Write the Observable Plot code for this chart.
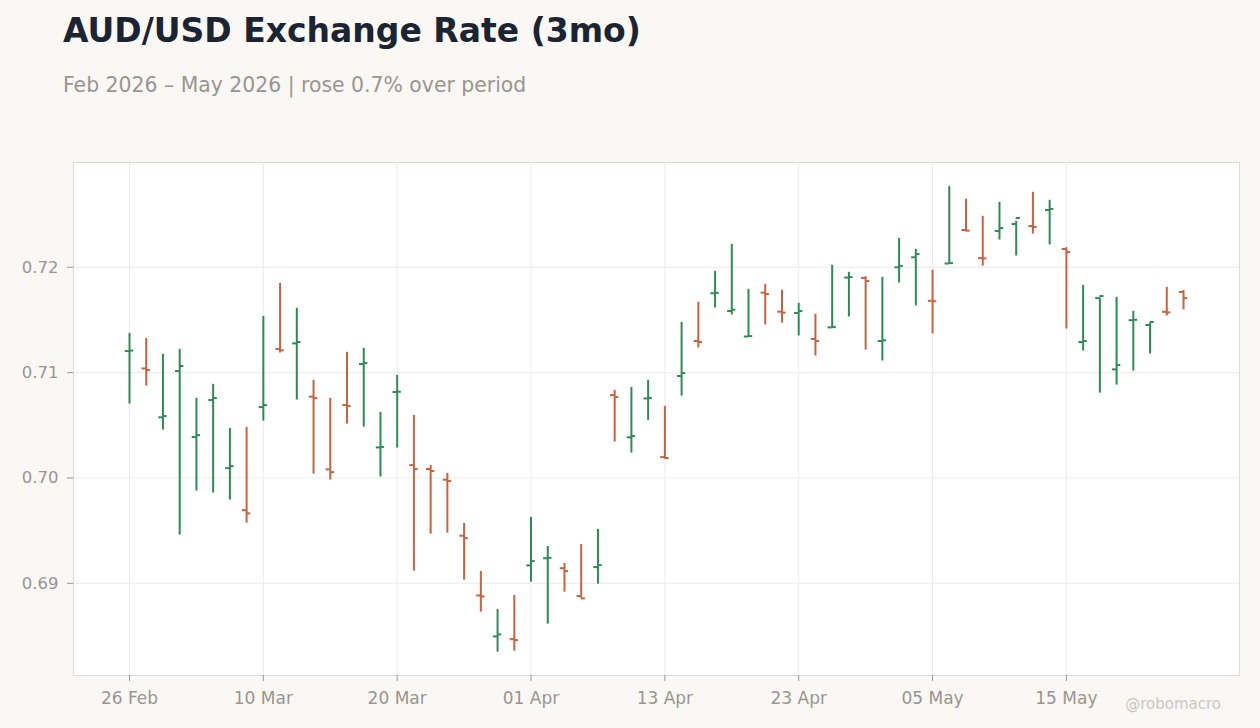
<!DOCTYPE html>
<html><head><meta charset="utf-8">
<script src="https://cdn.jsdelivr.net/npm/d3@7"></script>
<script src="https://cdn.jsdelivr.net/npm/@observablehq/plot@0.6"></script>
<style>
html,body{margin:0;padding:0;background:#f9f8f5;}
body{width:1260px;height:728px;position:relative;overflow:hidden;font-family:"DejaVu Sans",sans-serif;}
#header{position:relative;height:120px;}
#title{position:absolute;left:63px;top:14px;font-size:33px;line-height:33px;font-weight:bold;color:#1b2433;white-space:nowrap;}
#subtitle{position:absolute;left:63px;top:74.5px;font-size:20.4px;line-height:20.4px;color:#9a9590;white-space:nowrap;}
#credit{position:absolute;right:39px;top:697px;font-size:15px;line-height:15px;color:#cac7c3;}
#chart svg{display:block;}
</style></head><body>
<div id="header">
  <div id="title">AUD/USD Exchange Rate (3mo)</div>
  <div id="subtitle">Feb 2026 – May 2026 | rose 0.7% over period</div>
</div>
<div id="chart"></div>
<div id="credit">@robomacro</div>
<script>
const dates = [
  "2026-02-26","2026-02-27",
  "2026-03-02","2026-03-03","2026-03-04","2026-03-05","2026-03-06",
  "2026-03-09","2026-03-10","2026-03-11","2026-03-12","2026-03-13",
  "2026-03-16","2026-03-17","2026-03-18","2026-03-19","2026-03-20",
  "2026-03-23","2026-03-24","2026-03-25","2026-03-26","2026-03-27",
  "2026-03-30","2026-03-31","2026-04-01","2026-04-02","2026-04-03",
  "2026-04-06","2026-04-07","2026-04-08","2026-04-09","2026-04-10",
  "2026-04-13","2026-04-14","2026-04-15","2026-04-16","2026-04-17",
  "2026-04-20","2026-04-21","2026-04-22","2026-04-23","2026-04-24",
  "2026-04-27","2026-04-28","2026-04-29","2026-04-30","2026-05-01",
  "2026-05-04","2026-05-05","2026-05-06","2026-05-07","2026-05-08",
  "2026-05-11","2026-05-12","2026-05-13","2026-05-14","2026-05-15",
  "2026-05-18","2026-05-19","2026-05-20","2026-05-21","2026-05-22",
  "2026-05-25","2026-05-26"
];
const opens = [
  0.71205,0.71040,0.70576,0.71015,0.70389,0.70740,0.70094,0.69695,0.70673,0.71224,
  0.71278,0.70772,0.70082,0.70692,0.71082,0.70290,0.70816,0.70122,0.70085,0.69984,
  0.69452,0.68885,0.68496,0.68470,0.69170,0.69238,0.69144,0.68879,0.69154,0.70787,
  0.70386,0.70755,0.70198,0.70968,0.71300,0.71754,0.71585,0.71343,0.71760,0.71579,
  0.71566,0.71319,0.71430,0.71903,0.71899,0.71300,0.72000,0.72095,0.71682,0.72036,
  0.72354,0.72088,0.72345,0.72411,0.72392,0.72544,0.72174,0.71291,0.71708,0.71031,
  0.71498,0.71452,0.71578,0.71766
];
const highs = [
  0.71373,0.71326,0.71174,0.71221,0.70756,0.70889,0.70471,0.70481,0.71535,0.71848,
  0.71611,0.70927,0.70756,0.71193,0.71231,0.70623,0.70974,0.70594,0.70120,0.70044,
  0.69569,0.69113,0.68752,0.68885,0.69626,0.69350,0.69189,0.69369,0.69512,0.70832,
  0.70860,0.70927,0.70680,0.71478,0.71668,0.71962,0.72218,0.71791,0.71839,0.71782,
  0.71658,0.71554,0.72019,0.71953,0.71911,0.71905,0.72275,0.72171,0.71972,0.72769,
  0.72646,0.72484,0.72617,0.72437,0.72712,0.72636,0.72187,0.71829,0.71708,0.71715,
  0.71582,0.71468,0.71810,0.71779
];
const lows = [
  0.70702,0.70873,0.70455,0.69458,0.69876,0.69857,0.69790,0.69572,0.70540,0.71186,
  0.70740,0.70037,0.69980,0.70512,0.70483,0.70009,0.70284,0.69116,0.69467,0.69477,
  0.69031,0.68727,0.68347,0.68356,0.69011,0.68613,0.68916,0.68857,0.68992,0.70341,
  0.70237,0.70547,0.70180,0.70778,0.71234,0.71614,0.71547,0.71338,0.71452,0.71471,
  0.71348,0.71158,0.71428,0.71528,0.71215,0.71110,0.71851,0.71633,0.71367,0.72034,
  0.72339,0.72012,0.72259,0.72107,0.72316,0.72212,0.71414,0.71205,0.70806,0.70882,
  0.71015,0.71177,0.71538,0.71595
];
const closes = [
  0.71210,0.71025,0.70588,0.71063,0.70407,0.70759,0.70113,0.69664,0.70692,0.71212,
  0.71291,0.70759,0.70056,0.70683,0.71091,0.70295,0.70819,0.70085,0.70066,0.69971,
  0.69429,0.68876,0.68515,0.68461,0.69211,0.69242,0.69116,0.68857,0.69173,0.70768,
  0.70398,0.70760,0.70190,0.70996,0.71291,0.71758,0.71598,0.71347,0.71747,0.71570,
  0.71585,0.71300,0.71432,0.71907,0.71870,0.71307,0.72012,0.72126,0.71678,0.72040,
  0.72348,0.72085,0.72373,0.72468,0.72383,0.72554,0.72145,0.71300,0.71727,0.71072,
  0.71502,0.71481,0.71572,0.71708
];
const yTicks = [0.69, 0.70, 0.71, 0.72];
const xTickIndex = [0, 8, 16, 24, 32, 40, 48, 56];

const UP = "#2e8b57", DOWN = "#c8623f";
const fmt = d3.utcFormat("%d %b");
const data = dates.map((d, i) => ({
  i, date: d, open: opens[i], high: highs[i], low: lows[i], close: closes[i],
  color: closes[i] >= opens[i] ? UP : DOWN
}));

const chart = Plot.plot({
  width: 1260, height: 608,
  marginTop: 42, marginBottom: 53, marginLeft: 73, marginRight: 21,
  style: {background: "transparent", fontFamily: "DejaVu Sans", fontSize: "16px", color: "#9a958f"},
  x: {type: "linear", domain: [-3.347, 66.347]},
  y: {domain: [0.68125, 0.72995]},
  color: {type: "identity"},
  marks: [
    Plot.frame({fill: "white", stroke: null}),
    Plot.gridX(xTickIndex, {stroke: "#ececec", strokeOpacity: 1}),
    Plot.gridY(yTicks, {stroke: "#ececec", strokeOpacity: 1}),
    Plot.frame({stroke: "#dedad5"}),
    Plot.axisY(yTicks, {tickSize: 6, tickPadding: 9, tickFormat: d3.format(".2f"), label: null, fontSize: 16.5}),
    Plot.axisX(xTickIndex, {tickSize: 6, tickPadding: 10, tickFormat: i => fmt(new Date(dates[i])), label: null, fontSize: 17}),
    Plot.ruleX(data, {x: "i", y1: "low", y2: "high", stroke: "color", strokeWidth: 2}),
    Plot.ruleY(data, {y: "open", x1: d => d.i - 0.25, x2: "i", stroke: "color", strokeWidth: 2}),
    Plot.ruleY(data, {y: "close", x1: "i", x2: d => d.i + 0.25, stroke: "color", strokeWidth: 2})
  ]
});
document.getElementById("chart").appendChild(chart);
</script>
</body></html>
